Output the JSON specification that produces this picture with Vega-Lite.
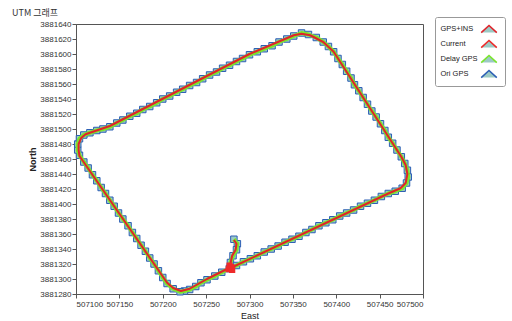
{
  "$schema": "https://vega.github.io/schema/vega-lite/v6.json",
  "width": 347,
  "height": 270,
  "autosize": {"type": "none"},
  "padding": {"left": 76, "top": 24, "right": 89, "bottom": 27},
  "background": "white",
  "title": {"text": "UTM 그래프", "anchor": "start", "frame": "group", "dx": -64, "dy": 4, "offset": 3, "fontSize": 9, "font": "Noto Sans CJK KR", "fontWeight": "normal", "color": "#333"},
  "config": {
    "view": {"stroke": "#555", "strokeWidth": 1},
    "axis": {"labelFont": "Liberation Sans", "labelFontSize": 8, "labelColor": "#333", "tickColor": "#555", "domainColor": "#555", "tickSize": 4, "grid": false, "titleFont": "Liberation Sans", "titleFontSize": 9, "titleColor": "#222"},
    "legend": {"labelFont": "Liberation Sans", "labelFontSize": 7.5, "labelColor": "#222"}
  },
  "datasets": {
    "route": [
      {"x": 507282, "y": 3881353}, {"x": 507286, "y": 3881347}, {"x": 507285, "y": 3881339}, {"x": 507281, "y": 3881331}, {"x": 507278, "y": 3881322},
      {"x": 507277, "y": 3881314}, {"x": 507268, "y": 3881309}, {"x": 507260, "y": 3881304}, {"x": 507251, "y": 3881299},
      {"x": 507244, "y": 3881295}, {"x": 507238, "y": 3881290}, {"x": 507231, "y": 3881286}, {"x": 507225, "y": 3881284}, {"x": 507220, "y": 3881283},
      {"x": 507212, "y": 3881287}, {"x": 507205, "y": 3881294},
      {"x": 507200, "y": 3881302}, {"x": 507195, "y": 3881311}, {"x": 507190, "y": 3881320}, {"x": 507185, "y": 3881328}, {"x": 507180, "y": 3881337},
      {"x": 507175, "y": 3881345}, {"x": 507170, "y": 3881354}, {"x": 507165, "y": 3881362}, {"x": 507160, "y": 3881371}, {"x": 507154, "y": 3881380},
      {"x": 507149, "y": 3881388}, {"x": 507144, "y": 3881397}, {"x": 507139, "y": 3881405}, {"x": 507134, "y": 3881414}, {"x": 507129, "y": 3881422},
      {"x": 507124, "y": 3881431}, {"x": 507119, "y": 3881439}, {"x": 507114, "y": 3881448}, {"x": 507109, "y": 3881456}, {"x": 507104, "y": 3881465},
      {"x": 507102, "y": 3881472}, {"x": 507102, "y": 3881480}, {"x": 507104, "y": 3881487}, {"x": 507109, "y": 3881492},
      {"x": 507116, "y": 3881495}, {"x": 507124, "y": 3881498}, {"x": 507131, "y": 3881500}, {"x": 507139, "y": 3881503},
      {"x": 507147, "y": 3881508}, {"x": 507154, "y": 3881512}, {"x": 507162, "y": 3881517}, {"x": 507170, "y": 3881521}, {"x": 507177, "y": 3881526},
      {"x": 507185, "y": 3881530}, {"x": 507193, "y": 3881535}, {"x": 507200, "y": 3881540}, {"x": 507208, "y": 3881544}, {"x": 507216, "y": 3881549},
      {"x": 507223, "y": 3881553}, {"x": 507231, "y": 3881558}, {"x": 507239, "y": 3881562}, {"x": 507246, "y": 3881567}, {"x": 507254, "y": 3881572},
      {"x": 507262, "y": 3881576}, {"x": 507269, "y": 3881581}, {"x": 507277, "y": 3881585}, {"x": 507285, "y": 3881590}, {"x": 507292, "y": 3881594},
      {"x": 507300, "y": 3881599}, {"x": 507309, "y": 3881603}, {"x": 507317, "y": 3881607}, {"x": 507326, "y": 3881611}, {"x": 507334, "y": 3881616},
      {"x": 507343, "y": 3881620}, {"x": 507351, "y": 3881624}, {"x": 507360, "y": 3881628}, {"x": 507368, "y": 3881626}, {"x": 507377, "y": 3881622},
      {"x": 507385, "y": 3881616}, {"x": 507391, "y": 3881610}, {"x": 507397, "y": 3881603},
      {"x": 507402, "y": 3881594}, {"x": 507407, "y": 3881586}, {"x": 507412, "y": 3881577}, {"x": 507417, "y": 3881568}, {"x": 507421, "y": 3881559},
      {"x": 507426, "y": 3881551}, {"x": 507431, "y": 3881542}, {"x": 507436, "y": 3881533}, {"x": 507441, "y": 3881524}, {"x": 507446, "y": 3881516},
      {"x": 507451, "y": 3881507}, {"x": 507456, "y": 3881498}, {"x": 507460, "y": 3881489}, {"x": 507465, "y": 3881481}, {"x": 507470, "y": 3881472},
      {"x": 507475, "y": 3881463}, {"x": 507479, "y": 3881454}, {"x": 507482, "y": 3881445}, {"x": 507483, "y": 3881436}, {"x": 507481, "y": 3881428},
      {"x": 507476, "y": 3881421}, {"x": 507468, "y": 3881417}, {"x": 507460, "y": 3881414},
      {"x": 507452, "y": 3881410}, {"x": 507444, "y": 3881405}, {"x": 507436, "y": 3881401}, {"x": 507428, "y": 3881397}, {"x": 507420, "y": 3881392},
      {"x": 507412, "y": 3881388}, {"x": 507404, "y": 3881384}, {"x": 507396, "y": 3881379}, {"x": 507388, "y": 3881375}, {"x": 507380, "y": 3881371},
      {"x": 507372, "y": 3881366}, {"x": 507365, "y": 3881362}, {"x": 507357, "y": 3881357}, {"x": 507349, "y": 3881353}, {"x": 507341, "y": 3881349},
      {"x": 507333, "y": 3881344}, {"x": 507325, "y": 3881340}, {"x": 507317, "y": 3881336}, {"x": 507309, "y": 3881331}, {"x": 507301, "y": 3881327},
      {"x": 507293, "y": 3881323}, {"x": 507285, "y": 3881318}, {"x": 507277, "y": 3881314}
    ],
    "ins": [
      {"x": 507282, "y": 3881352}, {"x": 507285, "y": 3881347}, {"x": 507284, "y": 3881339}, {"x": 507280, "y": 3881331}, {"x": 507277, "y": 3881315},
      {"x": 507251, "y": 3881300}, {"x": 507231, "y": 3881287}, {"x": 507221, "y": 3881284}, {"x": 507212, "y": 3881288}, {"x": 507205, "y": 3881295},
      {"x": 507104, "y": 3881464}, {"x": 507103, "y": 3881472}, {"x": 507103, "y": 3881480}, {"x": 507106, "y": 3881488}, {"x": 507111, "y": 3881493},
      {"x": 507139, "y": 3881504}, {"x": 507300, "y": 3881600}, {"x": 507351, "y": 3881625}, {"x": 507360, "y": 3881627}, {"x": 507370, "y": 3881625},
      {"x": 507385, "y": 3881616}, {"x": 507397, "y": 3881603}, {"x": 507475, "y": 3881463}, {"x": 507480, "y": 3881452}, {"x": 507482, "y": 3881440},
      {"x": 507480, "y": 3881428}, {"x": 507474, "y": 3881421}, {"x": 507460, "y": 3881414}, {"x": 507277, "y": 3881314}
    ],
    "current": [
      {"x": 507276, "y": 3881313}, {"x": 507279, "y": 3881316}, {"x": 507277, "y": 3881318}, {"x": 507280, "y": 3881312}
    ]
  },
  "encoding": {
    "x": {"field": "x", "type": "quantitative",
      "scale": {"domain": [507100, 507500], "nice": false, "zero": false},
      "axis": {"values": [507100, 507150, 507200, 507250, 507300, 507350, 507400, 507450, 507500], "format": "d", "title": "East", "labelPadding": 2, "titlePadding": 3, "titleFontWeight": "normal"}},
    "y": {"field": "y", "type": "quantitative",
      "scale": {"domain": [3881280, 3881640], "nice": false, "zero": false},
      "axis": {"values": [3881280, 3881300, 3881320, 3881340, 3881360, 3881380, 3881400, 3881420, 3881440, 3881460, 3881480, 3881500, 3881520, 3881540, 3881560, 3881580, 3881600, 3881620, 3881640], "format": "d", "title": "North", "titleFontWeight": "bold", "labelPadding": 1, "titlePadding": 2}}
  },
  "layer": [
    {
      "data": {"name": "route"},
      "mark": {"type": "point", "shape": "square", "filled": false, "size": 42, "fill": "#9cc9c4", "strokeWidth": 1, "opacity": 1},
      "encoding": {
        "color": {"datum": "Ori GPS", "type": "nominal",
          "scale": {"domain": ["GPS+INS", "Current", "Delay GPS", "Ori GPS"], "range": ["#e0232a", "#ee2a2a", "#7be52b", "#2d5fb5"]},
          "legend": {
            "title": null, "orient": "none", "legendX": 359, "legendY": -7,
            "padding": 5, "strokeColor": "#999", "fillColor": "white", "cornerRadius": 2,
            "symbolType": "M-1.3,0.6L0,-0.6L1.3,0.6", "symbolSize": 144, "symbolStrokeWidth": 1.5, "rowPadding": 1,
            "symbolOffset": 42, "labelOffset": -55.5,
            "encode": {"symbols": {
              "shape": {"value": {"expr": "datum.value === 'Current' ? 'M-1.2,0h0.6v0.6h-0.6z M0.5,-0.7h0.6v0.6h-0.6z' : datum.value === 'Ori GPS' ? 'M-1.3,0.5h0.2v0.2h-0.2z M-0.9,0.1h0.2v0.2h-0.2z M-0.45,-0.25h0.2v0.2h-0.2z M0.05,-0.4h0.2v0.2h-0.2z M0.5,-0.25h0.2v0.2h-0.2z M0.9,0.05h0.2v0.2h-0.2z M1.25,0.45h0.2v0.2h-0.2z' : 'M-1.3,0.6L0,-0.6L1.3,0.6'"}},
              "fill": {"value": {"expr": "datum.value === 'Current' ? '#e8262c' : datum.value === 'Ori GPS' ? '#2a3fc0' : 'transparent'"}}
            }}
          }}
      }
    },
    {
      "data": {"name": "route"},
      "mark": {"type": "line", "strokeWidth": 4, "strokeJoin": "round"},
      "encoding": {"color": {"datum": "Delay GPS", "type": "nominal"}, "order": {"value": null}}
    },
    {
      "data": {"name": "ins"},
      "mark": {"type": "line", "strokeWidth": 2, "strokeJoin": "round"},
      "encoding": {"color": {"datum": "GPS+INS", "type": "nominal"}, "order": {"value": null}}
    },
    {
      "data": {"name": "current"},
      "mark": {"type": "point", "shape": "square", "filled": false, "size": 18, "fill": "#ee2a2a", "opacity": 1},
      "encoding": {"color": {"datum": "Current", "type": "nominal"}}
    }
  ]
}
